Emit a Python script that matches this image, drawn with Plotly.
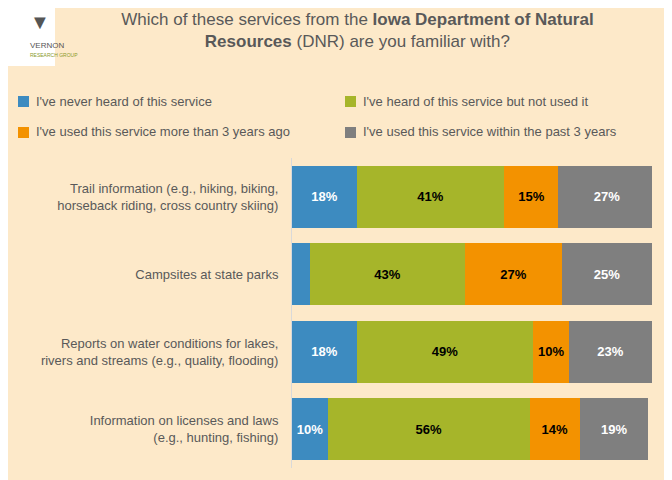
import plotly.graph_objects as go

categories = ["Trail information (e.g., hiking, biking,<br>horseback riding, cross country skiing)",
              "Campsites at state parks",
              "Reports on water conditions for lakes,<br>rivers and streams (e.g., quality, flooding)",
              "Information on licenses and laws<br>(e.g., hunting, fishing)"]
series_names = ["I've never heard of this service", "I've heard of this service but not used it",
                "I've used this service more than 3 years ago", "I've used this service within the past 3 years"]
never = [18, 5, 18, 10]
heard = [41, 43, 49, 56]
used_old = [15, 27, 10, 14]
used_recent = [27, 25, 23, 19]
never_labels = ["18%", "", "18%", "10%"]

colors = ["#3D8BC0", "#A6B52A", "#F39200", "#7F7F7F"]
textcolors = ["white", "black", "black", "white"]
values = [never, heard, used_old, used_recent]

fig = go.Figure()
for i, (name, vals) in enumerate(zip(series_names, values)):
    texts = never_labels if i == 0 else [f"{v}%" for v in vals]
    fig.add_bar(y=categories, x=vals, name=name, orientation="h",
                marker=dict(color=colors[i], line=dict(width=0)),
                text=texts, textposition="inside", insidetextanchor="middle",
                textfont=dict(color=textcolors[i], size=13, family="Liberation Sans"),
                texttemplate="<b>%{text}</b>", hoverinfo="skip")

def py(p):  # screenshot pixel y -> paper coordinate
    return (468 - p) / 310

def px(p):
    return (p - 292) / 360

shapes = [dict(type="rect", xref="paper", yref="paper", x0=px(0), x1=px(55),
               y0=py(66), y1=py(0), fillcolor="white", line=dict(width=0))]
leg_pos = [(18, 101), (345, 101), (18, 132), (345, 132)]
for (lx, ly), name, c in zip(leg_pos, series_names, colors):
    shapes.append(dict(type="rect", xref="paper", yref="paper", x0=px(lx), x1=px(lx + 11),
                       y0=py(ly + 6), y1=py(ly - 5), fillcolor=c, line=dict(width=0)))
    fig.add_annotation(xref="paper", yref="paper", x=px(lx + 16), y=py(ly), text=name,
                       xanchor="left", yanchor="middle", showarrow=False,
                       font=dict(size=13, color="#595959"))

fig.update_layout(
    width=672, height=480, barmode="stack", bargap=0.2,
    paper_bgcolor="#FDE9C9", plot_bgcolor="#FDE9C9",
    margin=dict(l=284, r=28, t=150, b=20, autoexpand=False),
    font=dict(family="Liberation Sans, Open Sans", color="#595959", size=13),
    showlegend=False,
    xaxis=dict(range=[0, 100], visible=False),
    yaxis=dict(autorange="reversed", showline=True, linecolor="#D9D9D9", ticks="",
               tickfont=dict(size=13, color="#595959"), ticklabelstandoff=10),
    title=dict(text="Which of these services from the <b>Iowa Department of Natural</b><br><b>Resources</b> (DNR) are you familiar with?",
               x=0.52, xanchor="center", y=0.965, yanchor="top",
               font=dict(size=17, color="#595959")),
    shapes=shapes,
)
fig.add_annotation(xref="paper", yref="paper", x=px(28), y=py(22), text="▼",
                   showarrow=False, font=dict(size=20, color="#555555"), yanchor="middle")
fig.add_annotation(xref="paper", yref="paper", x=px(28), y=py(45), text="VERNON",
                   showarrow=False, font=dict(size=8, color="#555555"), yanchor="middle")
fig.add_annotation(xref="paper", yref="paper", x=px(28), y=py(55), text="RESEARCH GROUP",
                   showarrow=False, font=dict(size=5, color="#8a9a2a"), yanchor="middle")
fig.write_html("out.html")
